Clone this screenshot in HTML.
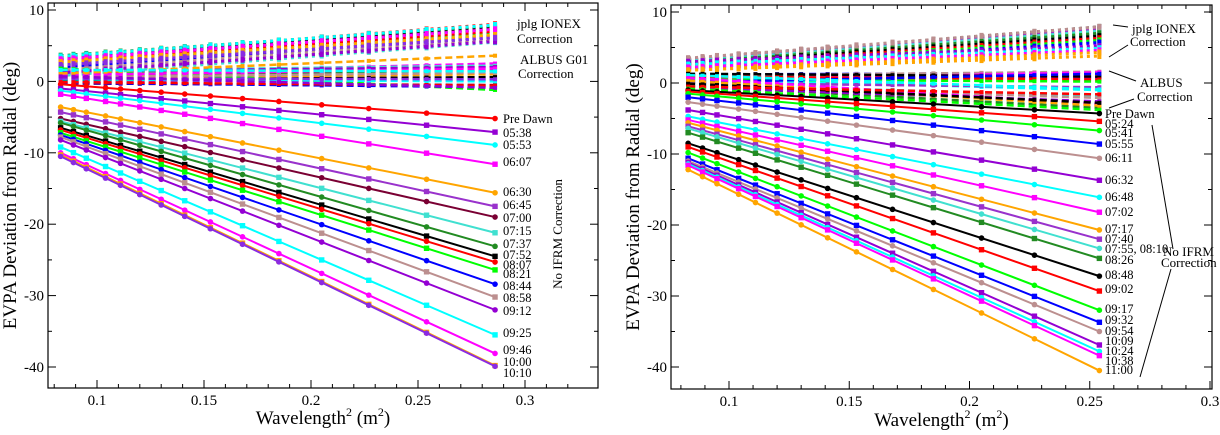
<!DOCTYPE html>
<html><head><meta charset="utf-8"><style>
html,body{margin:0;padding:0;background:#fff;}
svg{display:block;font-family:"Liberation Serif",serif;}
</style></head><body>
<svg id="c" width="1220" height="435" viewBox="0 0 1220 435"></svg>
<script>
// ---- data ----
const lambda2 = [0.083,0.089,0.095,0.104,0.111,0.12,0.13,0.141,0.153,0.168,0.185,0.205,0.227,0.254,0.286];
const lambda2Right = [0.083,0.089,0.095,0.104,0.111,0.12,0.13,0.141,0.153,0.168,0.185,0.205,0.227,0.254];
const xTicks = [0.1,0.15,0.2,0.25,0.3];
const yTicks = [10,0,-10,-20,-30,-40];
// left panel
const leftLabels = ["Pre Dawn","05:38","05:53","06:07","06:30","06:45","07:00","07:15","07:37","07:52","08:07","08:21","08:44","08:58","09:12","09:25","09:46","10:00","10:10"];
const leftColors = ["#ff0000","#9400d3","#00ffff","#ff00ff","#ffa500","#9932cc","#7a0033","#40e0d0","#228b22","#000000","#ff0000","#00ff00","#0000ff","#bc8f8f","#9400d3","#00ffff","#ff00ff","#ffa500","#8a2be2"];
const leftStart = [-0.4,-1.0,-1.3,-1.8,-3.6,-4.3,-5.2,-5.6,-5.8,-6.5,-6.8,-7.2,-7.5,-7.8,-8.2,-9.2,-10.0,-10.3,-10.5];
const leftEnd = [-5.2,-7.1,-8.9,-11.6,-15.6,-17.5,-19.0,-21.2,-23.1,-24.5,-25.3,-26.4,-28.4,-30.2,-32.0,-35.5,-38.1,-39.8,-39.9];
const leftIonexStart = [3.4,3.0,2.6,2.2,1.8,1.4,1.0,0.8,3.6,3.2,2.8,2.4,2.0,1.6,1.2,3.5,3.1,2.7,2.3];
const leftIonexEnd = [8.0,7.6,7.2,6.8,6.4,6.0,5.7,5.5,7.8,7.4,7.0,6.6,6.2,5.9,5.6,7.9,7.3,6.5,6.1];
const leftAlbusStart = [1.0,0.5,0.0,-0.3,1.5,0.8,0.2,1.2,1.8,-0.2,0.6,1.4,0.3,0.9,1.1,0.4,-0.1,0.7,1.6];
const leftAlbusEnd = [2.5,1.0,0.2,-0.5,2.2,1.5,0.6,2.0,-1.2,-0.8,1.2,2.0,0.0,1.8,3.6,0.3,-0.6,-0.9,1.4];
// right panel
const rightLabels = ["Pre Dawn","05:24","05:41","05:55","06:11","06:32","06:48","07:02","07:17","07:40","07:55, 08:10","08:26","08:48","09:02","09:17","09:32","09:54","10:09","10:24","10:38","11:00"];
const rightColors = ["#000000","#ff0000","#00ff00","#0000ff","#bc8f8f","#9400d3","#00ffff","#ff00ff","#ffa500","#9932cc","#40e0d0","#228b22","#000000","#ff0000","#00ff00","#0000ff","#bc8f8f","#9400d3","#00ffff","#ff00ff","#ffa500"];
const rightStart = [-1.0,-1.2,-1.5,-2.0,-2.7,-3.8,-4.7,-5.2,-5.6,-6.1,-6.4,-7.0,-8.5,-9.0,-9.8,-10.6,-11.0,-11.2,-11.4,-11.6,-12.2];
const rightEnd = [-4.3,-5.4,-6.7,-8.6,-10.6,-13.7,-16.1,-18.2,-20.7,-22.0,-23.3,-24.7,-27.2,-29.3,-32.0,-33.7,-35.0,-36.9,-37.8,-38.4,-40.5];
const rightIonexStart = [3.4,3.2,3.0,2.8,2.6,2.4,2.2,2.0,1.8,3.3,3.1,2.9,2.7,2.5,2.3,2.1,3.5,3.0,2.6,2.2,1.8];
const rightIonexEnd = [7.9,7.5,7.1,6.8,6.5,6.2,5.9,5.6,3.8,7.7,7.3,7.0,6.6,6.3,6.0,5.7,7.9,5.2,4.9,4.6,4.3];
const rightAlbusStart = [1.2,1.0,0.8,0.6,0.4,0.2,0.0,-0.2,-0.4,1.3,0.9,0.5,0.1,-0.3,-0.6,1.1,0.7,0.3,-0.1,-0.5,-0.8];
const rightAlbusEnd = [1.4,1.6,0.8,-1.0,1.5,1.2,-0.6,-1.8,-3.5,0.9,0.5,0.2,1.3,-2.1,-2.6,-0.9,-3.0,-3.2,-2.8,-1.6,-3.8];

const NS="http://www.w3.org/2000/svg";
const svg=document.getElementById('c');
function mk(tag,attrs,parent){const e=document.createElementNS(NS,tag);for(const k in attrs)e.setAttribute(k,attrs[k]);(parent||svg).appendChild(e);return e;}

function panel(cfg){
  const g=mk('g',{});
  
  
  const X=v=>cfg.x0px+(v-0.1)*(cfg.x3px-cfg.x0px)/0.2;
  const Y=v=>cfg.y10+(10-v)*(cfg.ym40-cfg.y10)/50;
  const L=cfg.L,R=cfg.R,T=cfg.T,B=cfg.B;
  const tg=mk('g',{stroke:'#000','stroke-width':1},g);
  for(let v=0.08;v<=0.3251;v+=0.01){const px=X(v);if(px<L||px>R)continue;const maj=Math.abs(v*20-Math.round(v*20))<1e-6;const len=maj?8:4;
    mk('line',{x1:px,y1:B,x2:px,y2:B-len},tg);mk('line',{x1:px,y1:T,x2:px,y2:T+len},tg);}
  for(let v=-45;v<=10;v+=5){const py=Y(v);if(py<T||py>B)continue;const len=(v%10===0)?8:4;
    mk('line',{x1:L,y1:py,x2:L+len,y2:py},tg);mk('line',{x1:R,y1:py,x2:R-len,y2:py},tg);}
  xTicks.forEach(v=>{const px=X(v);if(px>R+5)return;const t=mk('text',{x:px,y:B+17,'font-size':15,'text-anchor':'middle'},g);t.textContent=String(v);
    
    });
  yTicks.forEach(v=>{const t=mk('text',{x:L-4,y:Y(v)+5,'font-size':15,'text-anchor':'end'},g);t.textContent=String(v);
    
    });
  const xs=cfg.xs, xa=xs[0], xb=xs[xs.length-1];
  const lin=(a,b,x)=>a+(b-a)*(x-xa)/(xb-xa);
  cfg.iS.forEach((s,i)=>{const c=cfg.colors[i%cfg.colors.length];
    const ln=mk('line',{x1:X(xa),y1:Y(s),x2:X(xb),y2:Y(cfg.iE[i]),stroke:c,'stroke-width':3,'stroke-dasharray':'3,4'},g);
    
    
    xs.forEach(x=>{mk('rect',{x:X(x)-2,y:Y(lin(s,cfg.iE[i],x))-3,width:4,height:6,fill:c},g);});});
  cfg.aS.forEach((s,i)=>{const c=cfg.colors[(i+3)%cfg.colors.length];
    const ln=mk('line',{x1:X(xa),y1:Y(s),x2:X(xb),y2:Y(cfg.aE[i]),stroke:c,'stroke-width':2.5,'stroke-dasharray':'7,4'},g);
    
    
    xs.forEach(x=>{mk('rect',{x:X(x)-2,y:Y(lin(s,cfg.aE[i],x))-2,width:4,height:4,fill:c},g);});});
  cfg.s.forEach((s,i)=>{const c=cfg.colors[i];
    const ln=mk('line',{x1:X(xa),y1:Y(s),x2:X(xb),y2:Y(cfg.e[i]),stroke:c,'stroke-width':2},g);
    
    
    xs.forEach((x,j)=>{const v=lin(s,cfg.e[i],x);const px=X(x),py=Y(v);
      if(i%2===0)mk('circle',{cx:px,cy:py,r:2.8,fill:c},g);else mk('rect',{x:px-2.7,y:py-2.7,width:5.4,height:5.4,fill:c},g);});
    const t=mk('text',{x:cfg.labX,y:cfg.labY[i]+4,'font-size':12.5},g);t.textContent=cfg.labels[i];
    
    
  });
  const fr=mk('rect',{x:L,y:T,width:R-L,height:B-T,fill:'none',stroke:'#000','stroke-width':1.2},g);
  
  
  const yl=mk('text',{x:0,y:0,'font-size':19,'text-anchor':'middle',transform:`translate(${cfg.ylx},${(T+B)/2}) rotate(-90)`},g);
  yl.textContent='EVPA Deviation from Radial (deg)';
  
  
  const xl=mk('text',{x:(L+R)/2,y:cfg.xly,'font-size':19,'text-anchor':'middle'},g);
  xl.innerHTML='Wavelength<tspan dy="-8" font-size="12">2</tspan><tspan dy="8"> (m</tspan><tspan dy="-8" font-size="12">2</tspan><tspan dy="8">)</tspan>';
  
  
  return g;
}
panel({name:'left-panel',x0px:97,x3px:525,y10:10,ym40:367,L:48,R:598,T:3,B:388,xs:lambda2,colors:leftColors,labels:leftLabels,
  s:leftStart,e:leftEnd,iS:leftIonexStart,iE:leftIonexEnd,aS:leftAlbusStart,aE:leftAlbusEnd,labX:503,
  labY:[119,133,145,162,192,205,218,231,244,255,265,274,286,298,311,333,350,362,373],ylx:16,xly:424});
panel({name:'right-panel',x0px:729,x3px:1210,y10:12,ym40:367,L:671,R:1212,T:5,B:389,xs:lambda2Right,colors:rightColors,labels:rightLabels,
  s:rightStart,e:rightEnd,iS:rightIonexStart,iE:rightIonexEnd,aS:rightAlbusStart,aE:rightAlbusEnd,labX:1105,
  labY:[114,124,133,144,158,180,197,212,229,239,249,260,275,289,309,320,331,341,351,361,370],ylx:639,xly:426});
function txt(x,y,s,name,extra){const t=mk('text',Object.assign({x:x,y:y,'font-size':13},extra||{}));t.textContent=s;
  
  }
txt(517,28,'jplg IONEX','ionex-annotation');txt(517,43,'Correction','ionex-annotation-2');
txt(520,64,'ALBUS G01','albus-annotation');txt(518,78,'Correction','albus-annotation-2');
txt(0,0,'No IFRM Correction','no-ifrm-annotation',{transform:'translate(562,234) rotate(-90)','text-anchor':'middle'});
txt(1132,33,'jplg IONEX','ionex-annotation-right');txt(1130,46,'Correction','ionex-annotation-right-2');
txt(1140,87,'ALBUS','albus-annotation-right');txt(1137,101,'Correction','albus-annotation-right-2');
txt(1163,256,'No IFRM','no-ifrm-annotation-right');txt(1161,267,'Correction','no-ifrm-annotation-right-2');
const leaders=[[1113,25,1128,27],[1109,57,1128,45],[1109,71,1136,81],[1109,108,1134,99],[1152,125,1173,249],[1171,269,1140,377]];
leaders.forEach(l=>{const e=mk('line',{x1:l[0],y1:l[1],x2:l[2],y2:l[3],stroke:'#000','stroke-width':1});
  
  });
</script>
</body></html>
